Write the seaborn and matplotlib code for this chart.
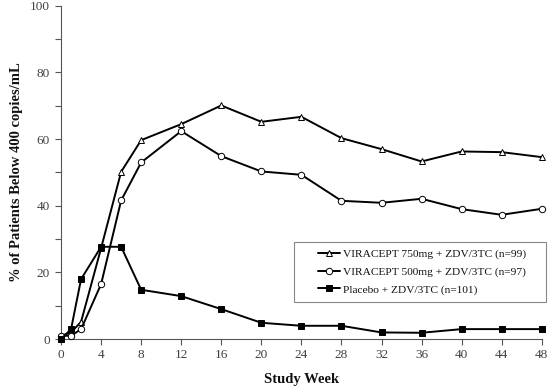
import numpy as np
import pandas as pd
import matplotlib
matplotlib.use("Agg")
import matplotlib.pyplot as plt
import seaborn as sns
from matplotlib.ticker import MultipleLocator
from matplotlib.patches import Rectangle

weeks = [0, 1, 2, 4, 6, 8, 12, 16, 20, 24, 28, 32, 36, 40, 44, 48]
v750 = [1, 2, 5.2, 27.3, 50.2, 59.7, 64.5, 70.1, 65.2, 66.7, 60.3, 57.0, 53.3, 56.3, 56.1, 54.6]
v500 = [1, 1, 3, 16.5, 41.6, 53.0, 62.4, 54.9, 50.3, 49.3, 41.5, 40.9, 42.1, 39.0, 37.3, 39.1]
placebo = [0, 3, 18, 27.7, 27.7, 14.8, 12.9, 9.0, 4.9, 4.0, 4.0, 2.0, 1.9, 3.0, 3.0, 3.0]
labels = ["VIRACEPT 750mg + ZDV/3TC (n=99)",
          "VIRACEPT 500mg + ZDV/3TC (n=97)",
          "Placebo + ZDV/3TC (n=101)"]

sns.set_theme(style="white")
plt.rcParams['font.family'] = ['Liberation Serif', 'DejaVu Serif']

fig = plt.figure(figsize=(5.5, 3.88), dpi=100)
ax = fig.add_axes([0.111, 0.126, 0.874, 0.859])

df = pd.DataFrame({"week": weeks * 3,
                   "value": v750 + v500 + placebo,
                   "series": [labels[0]] * len(weeks) + [labels[1]] * len(weeks) + [labels[2]] * len(weeks)})

styles = [
    dict(marker="^", markersize=3.8, markerfacecolor="white", markeredgecolor="black", markeredgewidth=0.7),
    dict(marker="o", markersize=4.6, markerfacecolor="white", markeredgecolor="black", markeredgewidth=0.7),
    dict(marker="s", markersize=4.6, markerfacecolor="black", markeredgecolor="black", markeredgewidth=0.7),
]
for lab, st in zip(labels, styles):
    sub = df[df["series"] == lab]
    sns.lineplot(data=sub, x="week", y="value", ax=ax, color="black", linewidth=1.4,
                 label=lab, clip_on=False, zorder=3, **st)

ax.set_xlim(0, 48)
ax.set_ylim(0, 100)
ax.xaxis.set_major_locator(MultipleLocator(4))
ax.yaxis.set_major_locator(MultipleLocator(20))
ax.yaxis.set_minor_locator(MultipleLocator(10))
ax.tick_params(axis="both", which="both", direction="out", color="#555555", width=0.8,
               labelsize=9.5, labelcolor="#404040", bottom=True, left=True)
ax.tick_params(axis="both", which="major", length=4)
ax.tick_params(axis="y", which="minor", length=4)
ax.tick_params(axis="x", pad=3)
ax.tick_params(axis="y", pad=4)
for s in ["top", "right"]:
    ax.spines[s].set_visible(False)
for s in ["left", "bottom"]:
    ax.spines[s].set_color("#555555")
    ax.spines[s].set_linewidth(0.8)

ax.set_xlabel("Study Week", fontsize=10.5, fontweight="bold", labelpad=9, color="#111111")
ax.set_ylabel("% of Patients Below 400 copies/mL", fontsize=10.5, fontweight="bold", labelpad=5, color="#111111")

# legend frame drawn separately so that the entries sit centred in it
x0, x1 = (294 - 61) / 481, (546 - 61) / 481
y0, y1 = (339.3 - 302) / 333.3, (339.3 - 242) / 333.3
ax.add_patch(Rectangle((x0, y0), x1 - x0, y1 - y0, transform=ax.transAxes, fill=True,
                       facecolor="white", edgecolor="#888888", linewidth=0.8, clip_on=False, zorder=4))
leg = ax.legend(loc="center", bbox_to_anchor=((x0 + x1) / 2 + 0.004, (y0 + y1) / 2),
                frameon=False, fontsize=8.2, handlelength=2.0, handletextpad=0.2,
                borderpad=0.0, labelspacing=0.65)
leg.set_zorder(5)
for t in leg.get_texts():
    t.set_color("#111111")

fig.savefig("out.png", dpi=100)
